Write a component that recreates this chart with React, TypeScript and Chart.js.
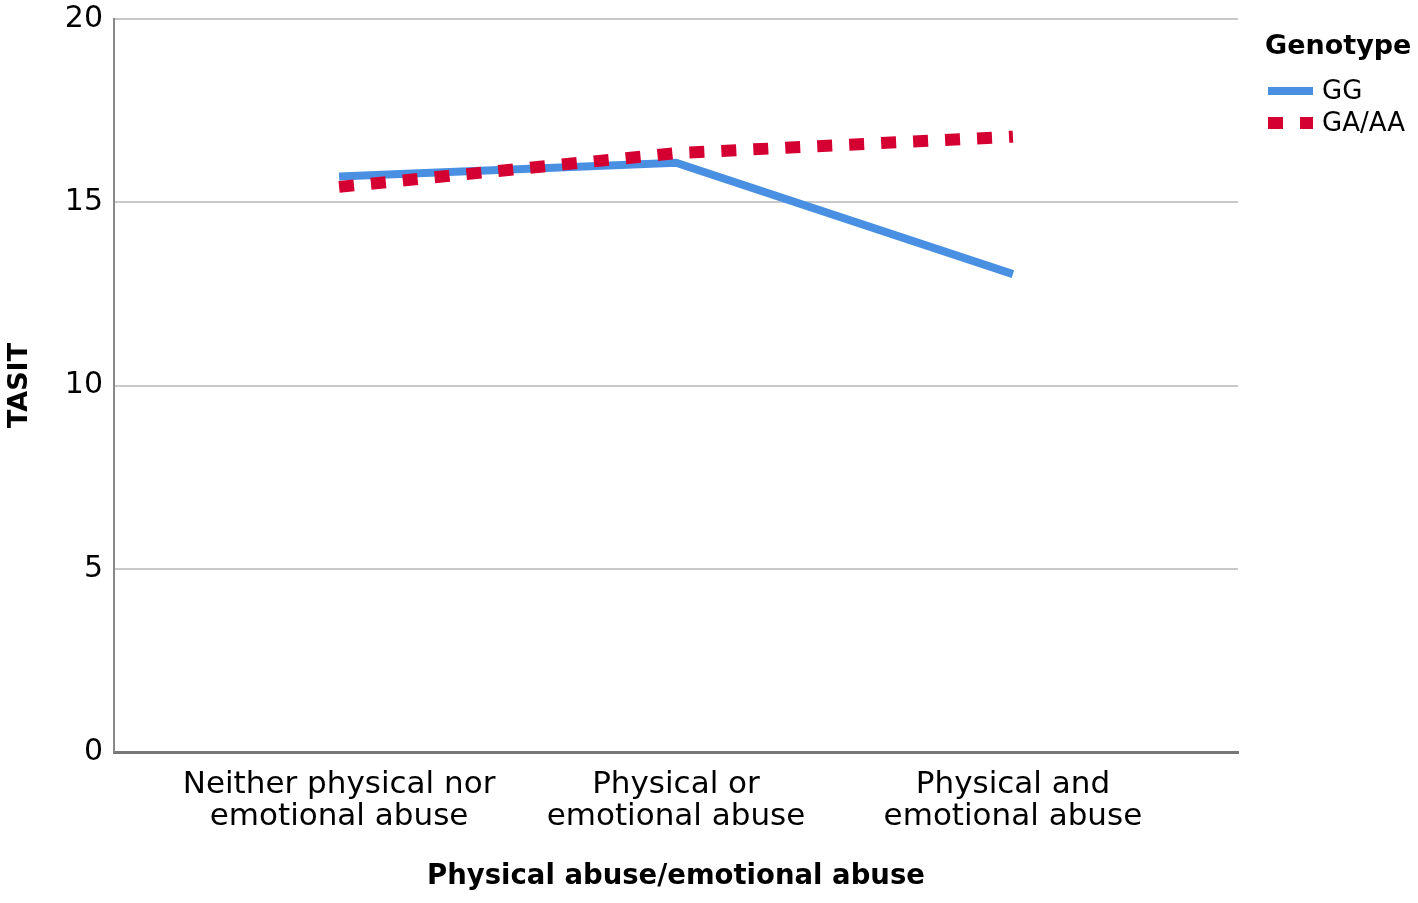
import React, { useEffect, useRef } from "react";
import { Chart, registerables, Plugin } from "chart.js";

Chart.register(...registerables);

const categories = [
  ["Neither physical nor", "emotional abuse"],
  ["Physical or", "emotional abuse"],
  ["Physical and", "emotional abuse"],
];
const ggValues = [15.7, 16.08, 13.04];
const gaValues = [15.42, 16.34, 16.79];
const yTicks = [0, 5, 10, 15, 20];

const FONT = "'DejaVu Sans', Verdana, sans-serif";

// legend drawn on the right, Genotype title + line swatches
const sideLegend: Plugin<"line"> = {
  id: "sideLegend",
  afterDraw(chart) {
    const ctx = chart.ctx;
    const x0 = chart.chartArea.right + 27;
    ctx.save();
    ctx.fillStyle = "#000";
    ctx.textBaseline = "middle";
    ctx.textAlign = "left";
    ctx.font = `bold 27px ${FONT}`;
    ctx.fillText("Genotype", x0, 47);
    ctx.font = `26px ${FONT}`;
    chart.data.datasets.forEach((ds: any, i) => {
      const y = 91 + i * 32;
      ctx.beginPath();
      ctx.strokeStyle = ds.borderColor;
      ctx.lineWidth = ds.borderWidth;
      ctx.lineCap = "butt";
      ctx.setLineDash(ds.borderDash || []);
      ctx.moveTo(x0 + 3, y);
      ctx.lineTo(x0 + 48, y);
      ctx.stroke();
      ctx.setLineDash([]);
      ctx.fillText(ds.label, x0 + 57, y + 1);
    });
    ctx.restore();
  },
};

export default function App() {
  const chartRef = useRef<HTMLCanvasElement | null>(null);

  useEffect(() => {
    if (!chartRef.current) {
      return;
    }
    const chartInstance = new Chart(chartRef.current, {
      type: "line",
      data: {
        datasets: [
          {
            label: "GG",
            data: ggValues.map((v, i) => ({ x: i, y: v })),
            borderColor: "#4a90e2",
            backgroundColor: "#4a90e2",
            borderWidth: 8,
            pointRadius: 0,
            order: 1,
          },
          {
            label: "GA/AA",
            data: gaValues.map((v, i) => ({ x: i, y: v })),
            borderColor: "#d50032",
            backgroundColor: "#d50032",
            borderWidth: 12,
            borderDash: [15, 17],
            borderCapStyle: "butt",
            pointRadius: 0,
            order: 0,
          },
        ],
      },
      options: {
        animation: false,
        responsive: false,
        maintainAspectRatio: false,
        layout: {
          padding: { top: 19, right: 180, left: 0, bottom: 0 },
        },
        plugins: {
          legend: { display: false },
          tooltip: { enabled: false },
        },
        scales: {
          x: {
            type: "linear",
            min: -0.668,
            max: 2.668,
            afterBuildTicks: (scale) => {
              scale.ticks = categories.map((_, i) => ({ value: i }));
            },
            afterFit: (scale) => {
              scale.height = 151;
            },
            ticks: {
              autoSkip: false,
              maxRotation: 0,
              padding: 17,
              color: "#000",
              font: { family: FONT, size: 31, lineHeight: 1.03 },
              callback: (v) => categories[Number(v)] ?? "",
            },
            grid: { display: false, drawTicks: false },
            border: { display: true, color: "#777", width: 3 },
            title: {
              display: true,
              text: "Physical abuse/emotional abuse",
              color: "#000",
              font: { family: FONT, size: 27.5, weight: "bold" },
              padding: { top: 0, bottom: 10 },
            },
          },
          y: {
            min: 0,
            max: 20,
            afterBuildTicks: (scale) => {
              scale.ticks = yTicks.map((v) => ({ value: v }));
            },
            afterFit: (scale: any) => {
              scale.width = 114;
              scale.paddingTop = 0;
              scale.paddingBottom = 0;
            },
            ticks: {
              padding: 11,
              color: "#000",
              font: { family: FONT, size: 30 },
            },
            grid: { color: "#c8c8c8", lineWidth: 2, drawTicks: false },
            border: { display: true, color: "#888", width: 2 },
            title: {
              display: true,
              text: "TASIT",
              color: "#000",
              font: { family: FONT, size: 27, weight: "bold" },
              padding: { top: 4, bottom: 0 },
            },
          },
        },
      },
      plugins: [sideLegend],
    });
    return () => {
      chartInstance.destroy();
    };
  }, [chartRef]);

  return (
    <div style={{ position: "fixed", left: 0, top: 0, width: 1418, height: 903, background: "#fff" }}>
      <canvas ref={chartRef} width={1418} height={903} style={{ width: 1418, height: 903 }}></canvas>
    </div>
  );
}
